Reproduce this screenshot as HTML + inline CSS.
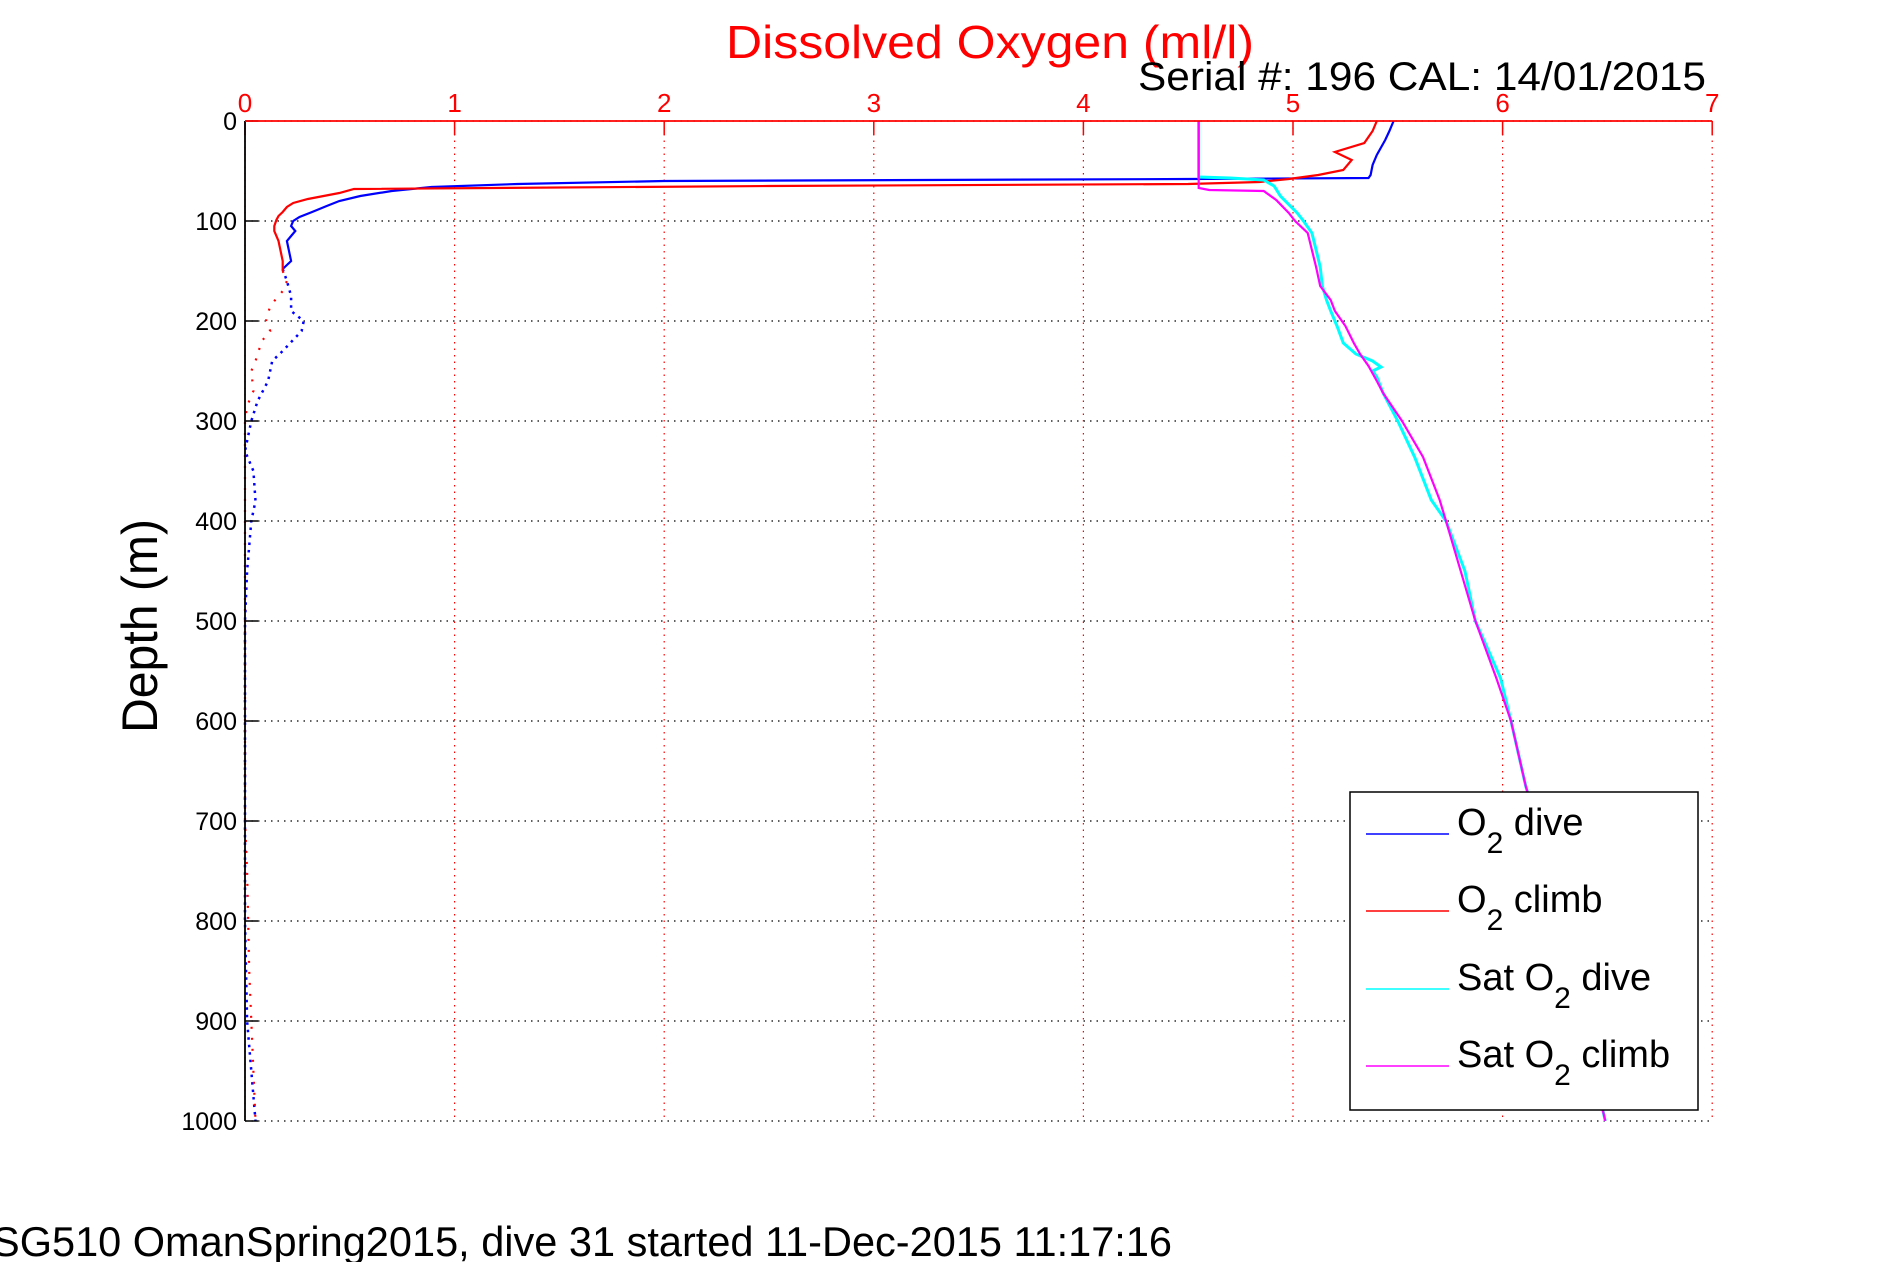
<!DOCTYPE html>
<html><head><meta charset="utf-8"><title>Dissolved Oxygen</title>
<style>html,body{margin:0;padding:0;background:#fff;}svg{display:block;font-family:"Liberation Sans",sans-serif;}</style>
</head><body>
<svg id="chart" width="1891" height="1262" viewBox="0 0 1891 1262" xmlns="http://www.w3.org/2000/svg">
<rect x="0" y="0" width="1891" height="1262" fill="#fff"/>
<g id="grid"></g>
<g id="series"></g>
<g id="axes"></g>
<text x="726" y="58" font-size="46" fill="#ff0000" textLength="528" lengthAdjust="spacingAndGlyphs">Dissolved Oxygen (ml/l)</text>
<text x="1138" y="90" font-size="40" fill="#000" textLength="568" lengthAdjust="spacingAndGlyphs">Serial #: 196  CAL: 14/01/2015</text>
<text transform="translate(157,626) rotate(-90)" text-anchor="middle" font-size="50" fill="#000" textLength="214" lengthAdjust="spacingAndGlyphs">Depth (m)</text>
<text x="-8" y="1256" font-size="42" fill="#000" textLength="1180" lengthAdjust="spacingAndGlyphs">SG510 OmanSpring2015, dive 31 started 11-Dec-2015 11:17:16</text>
<g>
  <rect x="1350" y="792" width="348" height="318" fill="#fff" stroke="#000" stroke-width="1.5"/>
  <g>
    <line x1="1366" y1="834" x2="1449" y2="834" stroke="#0000ff" stroke-width="1.5"/>
    <text x="1457" y="835" font-size="38" fill="#000">O<tspan font-size="30" dy="18">2</tspan><tspan dy="-18"> dive</tspan></text>
  </g>
  <g>
    <line x1="1366" y1="911" x2="1449" y2="911" stroke="#ff0000" stroke-width="1.5"/>
    <text x="1457" y="912" font-size="38" fill="#000">O<tspan font-size="30" dy="18">2</tspan><tspan dy="-18"> climb</tspan></text>
  </g>
  <g>
    <line x1="1366" y1="989" x2="1449" y2="989" stroke="#00ffff" stroke-width="1.5"/>
    <text x="1457" y="990" font-size="38" fill="#000">Sat O<tspan font-size="30" dy="18">2</tspan><tspan dy="-18"> dive</tspan></text>
  </g>
  <g>
    <line x1="1366" y1="1066" x2="1449" y2="1066" stroke="#ff00ff" stroke-width="1.5"/>
    <text x="1457" y="1067" font-size="38" fill="#000">Sat O<tspan font-size="30" dy="18">2</tspan><tspan dy="-18"> climb</tspan></text>
  </g>
</g>
</svg>
<script>
const xTicks = [0,1,2,3,4,5,6,7];
const yTicks = [0,100,200,300,400,500,600,700,800,900,1000];
const o2DiveDepth = [0,10,19,34,44,54,57,58,60,63,66,70,75,80,85,91,96,100,105,110,115,120,130,140,148];
const o2DiveVal = [5.48,5.46,5.44,5.40,5.38,5.37,5.36,4.5,2.0,1.3,0.89,0.7,0.55,0.45,0.39,0.32,0.26,0.23,0.22,0.24,0.22,0.2,0.21,0.22,0.18];
const o2DiveDeepDepth = [148,160,175,190,200,210,230,240,260,280,300,330,350,380,400,450,500,600,700,800,900,950,1000];
const o2DiveDeepVal = [0.18,0.2,0.22,0.22,0.28,0.27,0.18,0.13,0.11,0.06,0.03,0.0,0.04,0.05,0.03,0.01,0.0,0.0,0.0,0.0,0.01,0.03,0.05];
const o2ClimbDepth = [0,10,22,31,39,49,54,58,61,63,65,68,72,74,78,82,86,91,95,99,105,110,120,130,140,150];
const o2ClimbVal = [5.40,5.38,5.34,5.20,5.28,5.24,5.12,4.98,4.84,4.5,2.5,0.52,0.45,0.4,0.3,0.23,0.2,0.18,0.16,0.15,0.14,0.14,0.16,0.17,0.18,0.18];
const o2ClimbDeepDepth = [150,160,170,185,200,210,220,240,250,270,285,300,400,500,600,700,750,850,950,1000];
const o2ClimbDeepVal = [0.18,0.2,0.18,0.12,0.1,0.12,0.08,0.05,0.03,0.04,0.01,0.0,0.0,0.0,0.0,0.0,0.01,0.02,0.04,0.05];
const satDiveDepth = [0,56,57,59,65,75,92,100,112,129,146,165,179,190,205,222,233,240,246,250,256,272,300,336,379,400,450,500,557,600,665,700,800,900,1000];
const satDiveVal = [4.55,4.55,4.7,4.86,4.91,4.94,5.02,5.05,5.09,5.11,5.13,5.14,5.16,5.18,5.21,5.24,5.30,5.38,5.42,5.38,5.40,5.43,5.50,5.58,5.66,5.73,5.82,5.87,5.99,6.04,6.11,6.16,6.27,6.38,6.49];
const satClimbDepth = [0,67,69,70,79,92,100,112,129,146,165,179,190,205,222,233,245,260,272,300,336,379,400,450,500,557,600,665,700,800,900,1000];
const satClimbVal = [4.55,4.55,4.6,4.86,4.92,4.98,5.01,5.07,5.09,5.11,5.13,5.18,5.2,5.25,5.29,5.32,5.36,5.40,5.43,5.52,5.62,5.70,5.73,5.80,5.87,5.97,6.04,6.11,6.16,6.27,6.38,6.49];

const X0 = 245, XU = 209.6, Y0 = 121, YU = 1.0;
function xs(v){ return X0 + v*XU; }
function ys(d){ return Y0 + d*YU; }
const NS = "http://www.w3.org/2000/svg";
function mk(tag, parent){ const e = document.createElementNS(NS, tag); parent.appendChild(e); return e; }
const grid = document.getElementById('grid');
const axes = document.getElementById('axes');
const series = document.getElementById('series');

yTicks.forEach(function(t){
  const l = mk('line', grid);
  
  
  l.setAttribute('x1', xs(0)); l.setAttribute('x2', xs(7));
  l.setAttribute('y1', ys(t)); l.setAttribute('y2', ys(t));
  l.setAttribute('stroke', '#000'); l.setAttribute('stroke-width', '1.2'); l.setAttribute('stroke-dasharray', '1.5 5');
  const tk = mk('line', axes);
  
  
  tk.setAttribute('x1', xs(0)); tk.setAttribute('x2', xs(0)+13);
  tk.setAttribute('y1', ys(t)); tk.setAttribute('y2', ys(t));
  tk.setAttribute('stroke', '#000'); tk.setAttribute('stroke-width', '1.5');
  const tx = mk('text', axes);
  
  
  tx.setAttribute('x', 237); tx.setAttribute('y', ys(t)+9);
  tx.setAttribute('text-anchor', 'end'); tx.setAttribute('font-size', '25'); tx.setAttribute('fill', '#000');
  tx.textContent = String(t);
});
xTicks.forEach(function(t){
  const l = mk('line', grid);
  
  
  l.setAttribute('x1', xs(t)); l.setAttribute('x2', xs(t));
  l.setAttribute('y1', ys(0)); l.setAttribute('y2', ys(1000));
  l.setAttribute('stroke', '#ff0000'); l.setAttribute('stroke-width', '1.2'); l.setAttribute('stroke-dasharray', '1.5 5');
  const tk = mk('line', axes);
  
  
  tk.setAttribute('x1', xs(t)); tk.setAttribute('x2', xs(t));
  tk.setAttribute('y1', ys(0)); tk.setAttribute('y2', ys(0)+14);
  tk.setAttribute('stroke', '#ff0000'); tk.setAttribute('stroke-width', '1.5');
  const tx = mk('text', axes);
  
  
  tx.setAttribute('x', xs(t)); tx.setAttribute('y', 112);
  tx.setAttribute('text-anchor', 'middle'); tx.setAttribute('font-size', '26'); tx.setAttribute('fill', '#ff0000');
  tx.textContent = String(t);
});
const la = mk('line', axes);


la.setAttribute('x1', xs(0)); la.setAttribute('x2', xs(0)); la.setAttribute('y1', ys(0)); la.setAttribute('y2', ys(1000));
la.setAttribute('stroke', '#000'); la.setAttribute('stroke-width', '1.8');
const ta = mk('line', axes);


ta.setAttribute('x1', xs(0)); ta.setAttribute('x2', xs(7)); ta.setAttribute('y1', ys(0)); ta.setAttribute('y2', ys(0));
ta.setAttribute('stroke', '#ff0000'); ta.setAttribute('stroke-width', '1.8');

function pts(ds, vs){ return ds.map(function(d,i){ return xs(vs[i]).toFixed(1)+','+ys(d).toFixed(1); }).join(' '); }
function drawLine(name, ds, vs, color, w, dash){
  const p = mk('polyline', series);
  
  
  p.setAttribute('points', pts(ds, vs));
  p.setAttribute('fill', 'none'); p.setAttribute('stroke', color); p.setAttribute('stroke-width', w);
  if (dash) p.setAttribute('stroke-dasharray', dash);
}
drawLine('o2-dive-line', o2DiveDepth, o2DiveVal, '#0000ff', 2.2);
drawLine('o2-dive-deep-points', o2DiveDeepDepth, o2DiveDeepVal, '#0000ff', 2.5, '2.5 5');
drawLine('o2-climb-line', o2ClimbDepth, o2ClimbVal, '#ff0000', 2.2);
drawLine('o2-climb-deep-points', o2ClimbDeepDepth, o2ClimbDeepVal, '#ff0000', 2.2, '2 9');
drawLine('sat-o2-dive-line', satDiveDepth, satDiveVal, '#00ffff', 3);
drawLine('sat-o2-climb-line', satClimbDepth, satClimbVal, '#ff00ff', 2.2);
</script>
</body></html>
